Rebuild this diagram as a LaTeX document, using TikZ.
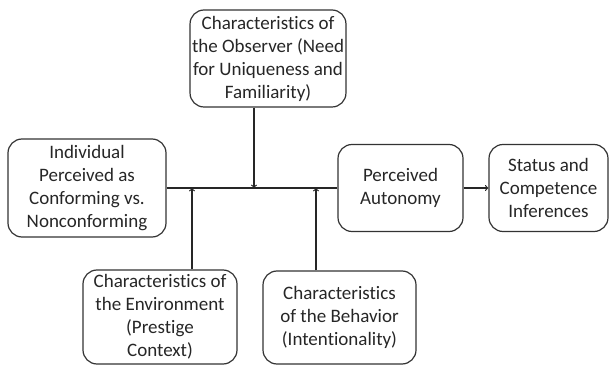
\documentclass[tikz,border=0pt]{standalone}
\usepackage{fontspec}
\setmainfont[Ligatures=NoCommon]{Carlito}
\usepackage{tikz}
\usetikzlibrary{arrows,positioning}
\tikzstyle{bloc}=[draw=black!80, line width=1.2pt, rounded corners=14pt, align=center, inner sep=2pt,
    font=\fontsize{19}{23}\selectfont, text=black!85]
\tikzstyle{fleche}=[->, line width=1.2pt, draw=black!85]

\begin{document}
\begin{tikzpicture}[x=1pt, y=-1pt]

\useasboundingbox (0,0) rectangle (610,366);

\node[bloc, minimum width=158pt, minimum height=98pt] (ind) at (87,188)
    {Individual\\Perceived as\\Conforming vs.\\Nonconforming};
\node[bloc, minimum width=150pt, minimum height=97pt] (obs) at (268,58.5)
    {Characteristics of\\the Observer (Need\\for Uniqueness and\\Familiarity)};
\node[bloc, minimum width=125pt, minimum height=87pt] (aut) at (400.5,188)
    {Perceived\\Autonomy};
\node[bloc, minimum width=119pt, minimum height=87pt] (stat) at (548.5,188)
    {Status and\\Competence\\Inferences};
\node[bloc, minimum width=154pt, minimum height=94pt] (env) at (160,317)
    {Characteristics of\\the Environment\\(Prestige\\Context)};
\node[bloc, minimum width=153pt, minimum height=93pt] (beh) at (339.5,317.5)
    {Characteristics\\of the Behavior\\(Intentionality)};

% main line
\draw[line width=1.2pt, draw=black!85] (ind.east) -- (aut.west);
\coordinate (jenv) at (192,188);
\coordinate (jobs) at (254,188);
\coordinate (jbeh) at (316,188);

% moderators
\draw[fleche] (obs.south -| jobs) -- (jobs);
\draw[fleche] (env.north -| jenv) -- (jenv);
\draw[fleche] (beh.north -| jbeh) -- (jbeh);

\draw[fleche] (aut) -- (stat);

\end{tikzpicture}
\end{document}
